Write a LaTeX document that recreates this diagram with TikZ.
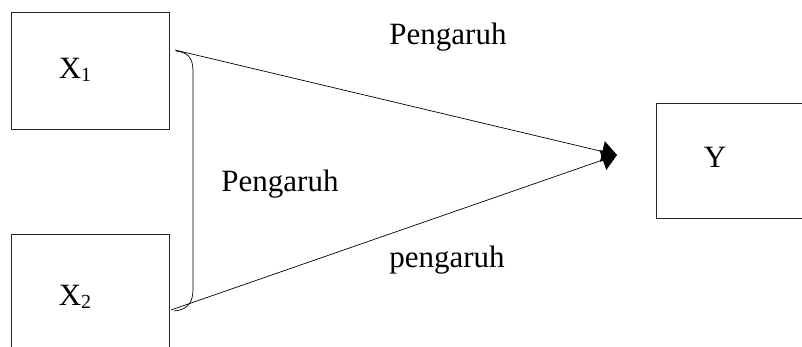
\documentclass[tikz,border=0pt]{standalone}
\usepackage{fontspec}
\setmainfont{Liberation Serif}
\usetikzlibrary{arrows.meta}
\newcommand{\subnum}[1]{\raisebox{-3pt}{\fontsize{20}{20}\selectfont #1}}
\tikzset{
  box/.style={draw=black!85, line width=0.8pt, minimum width=158pt, anchor=north west, inner sep=0pt},
  lbl/.style={anchor=base, inner sep=0pt, font=\fontsize{31}{37}\selectfont},
  conn/.style={line width=0.7pt, -{Triangle[length=15pt,width=21pt]}},
}
\begin{document}
\begin{tikzpicture}[x=1pt,y=-1pt]
\clip (0,0) rectangle (802,347);
\fill[white] (0,0) rectangle (802,347);
% boxes
\node[box, minimum height=117pt] (x1) at (11,12) {};
\node[box, minimum height=140pt] (x2) at (11,234) {};
\node[box, minimum width=160pt, minimum height=115pt] (y) at (656,103) {};
% box labels
\node[lbl] (x1t) at (75,79) {X\subnum{1}};
\node[lbl] (x2t) at (75,305) {X\subnum{2}};
\node[lbl] (yt) at (715,168) {Y};
% connector labels
\node[lbl] (p1) at (448,45) {Pengaruh};
\node[lbl] (p2) at (280,192) {Pengaruh};
\node[lbl] (p3) at (447,267) {pengaruh};
% connector ends
\coordinate (s1) at (175,50);
\coordinate (s2) at (171,310);
\coordinate (tip) at (617,155);
\draw[conn] (s1) -- (tip);
\draw[conn] (s2) -- (tip);
% bracket
\coordinate (b1) at (176,51);
\coordinate (b2) at (174,311);
\draw[line width=0.7pt] (b1) .. controls (192,53) and (193,62) .. (193,74)
  -- (193,290) .. controls (193,304) and (186,310) .. (b2);
\end{tikzpicture}
\end{document}
